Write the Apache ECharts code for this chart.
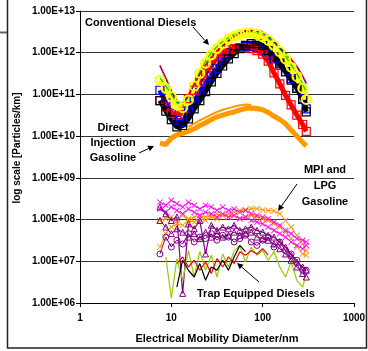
<!DOCTYPE html>
<html>
<head>
<meta charset="utf-8">
<script src="https://cdn.jsdelivr.net/npm/echarts@6/dist/echarts.min.js"></script>
<style>
  html, body { margin: 0; padding: 0; background: #fff; }
  #chart { width: 368px; height: 351px; }
</style>
</head>
<body>
<div id="chart"></div>
<script>
// size channels (nm)
var diam = [7.5, 8.7, 10, 11.5, 13.3, 15.4, 17.8, 20.5, 23.7, 27.4, 31.6, 36.5, 42.2, 48.7, 56.2, 64.9, 75, 86.6, 100, 115, 133, 154, 178, 205, 237, 274, 300];

// conventional diesels
var dieselYellow = [2.2e11, 1.4e11, 8.9e10, 5.6e10, 4.8e10, 7.4e10, 1.6e11, 3.2e11, 5.6e11, 8.9e11, 1.26e12, 1.66e12, 2.1e12, 2.5e12, 2.75e12, 2.95e12, 2.95e12, 2.75e12, 2.4e12, 2.0e12, 1.5e12, 1.07e12, 7.1e11, 4.5e11, 2.7e11, 1.4e11, 7.6e10];
var dieselRed = [7.1e10, 5.0e10, 3.5e10, 3.2e10, 4.0e10, 7.9e10, 1.26e11, 2.0e11, 3.2e11, 5.0e11, 7.6e11, 1.0e12, 1.17e12, 1.26e12, 1.32e12, 1.32e12, 1.26e12, 1.12e12, 9.3e11, 6.3e11, 3.3e11, 1.8e11, 9.5e10, 5.6e10, 3.2e10, 1.9e10, 1.3e10];
var dieselBlue = [1.26e11, 6.3e10, 3.5e10, 2.4e10, 2.1e10, 4.0e10, 6.8e10, 1.12e11, 1.8e11, 2.8e11, 4.2e11, 7.1e11, 1.0e12, 1.2e12, 1.32e12, 1.4e12, 1.4e12, 1.32e12, 1.12e12, 8.9e11, 7.1e11, 5.0e11, 3.5e11, 2.4e11, 1.4e11, 7.9e10, 4.5e10];
var dieselBlack = [7.1e10, 4.0e10, 2.5e10, 1.66e10, 1.8e10, 2.6e10, 4.5e10, 7.1e10, 1.17e11, 2.0e11, 3.2e11, 4.8e11, 7.1e11, 9.5e11, 1.26e12, 1.5e12, 1.66e12, 1.66e12, 1.5e12, 1.12e12, 7.9e11, 5.6e11, 3.5e11, 2.2e11, 1.4e11, 7.6e10, 3.8e10];
var dieselGreenLine = [2.5e11, 1.6e11, 1.0e11, 6.3e10, 5.2e10, 8.9e10, 1.8e11, 3.5e11, 6.3e11, 1.0e12, 1.4e12, 1.86e12, 2.3e12, 2.75e12, 3.1e12, 3.2e12, 3.2e12, 3.0e12, 2.7e12, 2.2e12, 1.74e12, 1.26e12, 8.3e11, 5.2e11, 3.2e11, 1.8e11, 1.12e11];
var dieselBlueLine = [4.8e11, 2.4e11, 1.2e11, 6.8e10, 6.0e10, 9.5e10, 1.7e11, 3.0e11, 5.0e11, 7.6e11, 1.1e12, 1.45e12, 1.9e12, 2.4e12, 2.9e12, 3.2e12, 3.35e12, 3.3e12, 3.0e12, 2.45e12, 1.85e12, 1.3e12, 9.5e11, 6.8e11, 4.5e11, 2.7e11, 1.8e11];
var dieselRedLine = [5.0e11, 2.5e11, 1.26e11, 7.1e10, 6.3e10, 1.0e11, 1.8e11, 3.2e11, 5.2e11, 7.9e11, 1.12e12, 1.5e12, 2.0e12, 2.5e12, 3.0e12, 3.4e12, 3.5e12, 3.5e12, 3.2e12, 2.6e12, 2.0e12, 1.4e12, 1.0e12, 7.1e11, 4.8e11, 2.8e11, 1.9e11];

// direct injection gasoline
var diMain = [6.8e9, 6.3e9, 8.9e9, 1.07e10, 1.17e10, 1.32e10, 1.5e10, 1.8e10, 2.1e10, 2.5e10, 2.9e10, 3.2e10, 3.5e10, 3.8e10, 4.2e10, 4.6e10, 4.7e10, 4.6e10, 4.3e10, 3.7e10, 3.0e10, 2.5e10, 2.0e10, 1.4e10, 1.0e10, 7.1e9, 5.8e9];
var diUpper = [null, null, null, null, null, 1.66e10, 2.0e10, 2.4e10, 2.8e10, 3.3e10, 3.8e10, 4.3e10, 4.7e10, 5.1e10, 5.5e10, 5.75e10, 5.6e10, null, null, null, null, null, null, null, null, null, null];

// MPI and LPG gasoline
var mpiMagentaA = [2.6e8, 2.2e8, 2.9e8, 2.4e8, 2.0e8, 2.6e8, 2.2e8, 1.8e8, 2.2e8, 2.0e8, 1.66e8, 2.0e8, 1.66e8, 1.8e8, 1.5e8, 1.66e8, 1.38e8, 1.26e8, 1.15e8, 1.05e8, 8.7e7, 7.3e7, 5.5e7, 4.6e7, 3.5e7, 3.2e7, 2.9e7];
var mpiMagentaB = [1.8e8, 1.5e8, 2.0e8, 1.66e8, 1.38e8, 1.8e8, 1.5e8, 1.26e8, 1.5e8, 1.38e8, 1.15e8, 1.38e8, 1.15e8, 1.26e8, 1.05e8, 1.15e8, 9.5e7, 8.7e7, 7.9e7, 6.6e7, 5.5e7, 4.6e7, 3.8e7, 2.9e7, 2.4e7, 2.0e7, 2.4e7];
var lpgOrangeA = [9.5e7, 1.05e8, 1.15e8, 9.5e7, 1.26e8, 1.05e8, 1.15e8, 1.26e8, 1.15e8, 1.26e8, 1.38e8, 1.26e8, 1.38e8, 1.5e8, 1.66e8, 1.7e8, 1.82e8, 1.82e8, 1.7e8, 1.66e8, 1.6e8, 1.38e8, 9.5e7, 6.6e7, 4.2e7, 2.6e7, 1.8e7];
var lpgOrangeB = [2.2e7, 4.6e7, 6.6e7, 7.9e7, 7.3e7, 9.5e7, 8.7e7, 1.05e8, 9.5e7, 1.15e8, 1.05e8, 1.26e8, 1.15e8, 1.26e8, 1.05e8, 1.15e8, 1.26e8, 1.15e8, 1.05e8, 9.5e7, 7.9e7, 6.6e7, 5.0e7, 3.5e7, 2.2e7, 1.5e7, 1.4e7];
var purpleTriA = [2.0e8, 1.38e8, 9.5e7, 1.15e8, 1.7e6, 7.9e7, 6.0e7, 9.5e7, 1.5e7, 7.3e7, 5.5e7, 6.6e7, 6.0e7, 7.3e7, 5.5e7, 6.0e7, 6.6e7, 5.5e7, 5.0e7, 4.2e7, 3.8e7, 2.9e7, 2.2e7, 1.4e7, 9.6e6, 7.3e6, 6.1e6];
var purpleTriB = [9.5e7, 6.6e7, 4.6e7, 6.0e7, 5.0e7, 3.8e7, 4.6e7, 3.5e7, 5.0e7, 3.8e7, 4.6e7, 3.8e7, 4.2e7, 5.0e7, 4.2e7, 4.6e7, 5.0e7, 3.8e7, 3.5e7, 3.2e7, 2.6e7, 2.0e7, 1.5e7, 1.06e7, 7.3e6, 5.1e6, 4.2e6];
var purpleCirc = [1.5e7, 3.8e7, 2.2e7, 3.2e7, 2.6e7, 4.6e7, 2.9e7, 3.8e7, 3.5e7, 4.6e7, 3.2e7, 4.2e7, 3.8e7, 2.9e7, 3.5e7, 4.2e7, 2.9e7, 2.4e7, 3.2e7, 3.8e7, 2.2e7, 2.9e7, 1.8e7, 1.5e7, 1.06e7, 6.1e6, 6.1e6];

// trap equipped diesels
var trapGreen = [null, 1.27e7, 1.3e6, 1.16e7, 3.5e6, 1.8e7, 4.2e6, 1.7e7, 6.1e6, 1.4e7, 4.2e6, 1.5e7, 7.3e6, 1.8e7, 2.4e7, 9.6e6, 2.2e7, 1.4e7, 1.8e7, 1.06e7, 1.7e7, 7.3e6, 4.2e6, 9.6e6, 3.5e6, 2.4e6, 5.1e6];
var trapRed = [null, null, null, 8.8e6, 1.27e7, 7.3e6, 1.06e7, 6.1e6, 9.6e6, 5.1e6, 1.16e7, 7.3e6, 1.27e7, 8.8e6, 1.7e7, 1.4e7, 1.8e7, 1.5e7, 2.0e7, 1.4e7, null, null, null, null, null, null, null];
var trapBlack = [null, null, null, 2.4e6, 1.06e7, 6.1e6, 4.2e6, 8.8e6, 3.5e6, 7.3e6, 6.1e6, 1.06e7, 6.1e6, 1.27e7, 2.4e7, 1.7e7, null, null, null, null, null, null, null, null, null, null, null];

var xTicks = [1, 10, 100, 1000];

function pts(vals) {
  var out = [];
  for (var i = 0; i < diam.length; i++) {
    if (vals[i] != null) out.push([diam[i], vals[i]]);
  }
  return out;
}

var crossPath = 'path://M0,1L1,0L5,4L9,0L10,1L6,5L10,9L9,10L5,6L1,10L0,9L4,5Z';

function markerSeries(vals, color, symbol, size, lineW, borderW, hollow) {
  return {
    type: 'line',
    data: pts(vals),
    symbol: symbol,
    symbolSize: size,
    smooth: false,
    silent: true,
    lineStyle: { color: color, width: lineW },
    itemStyle: hollow
      ? { color: 'rgba(0,0,0,0)', borderColor: color, borderWidth: borderW }
      : { color: color, borderWidth: 0 },
  };
}

function lineSeries(vals, color, width) {
  return {
    type: 'line',
    data: pts(vals),
    symbol: 'none',
    silent: true,
    lineStyle: { color: color, width: width },
  };
}

var bold = 'bold 11px "Liberation Sans", Arial, sans-serif';

function arrow(x1, y1, x2, y2) {
  var dx = x2 - x1, dy = y2 - y1;
  var len = Math.sqrt(dx * dx + dy * dy);
  var ux = dx / len, uy = dy / len;
  var bx = x2 - ux * 6, by = y2 - uy * 6;
  return [
    { type: 'line', shape: { x1: x1, y1: y1, x2: bx, y2: by }, style: { stroke: '#000', lineWidth: 1 } },
    {
      type: 'polygon',
      shape: { points: [[x2, y2], [bx - uy * 3, by + ux * 3], [bx + uy * 3, by - ux * 3]] },
      style: { fill: '#000' },
    },
  ];
}

var graphics = [
  { type: 'rect', shape: { x: 7.5, y: -5, width: 359, height: 353 }, style: { fill: 'none', stroke: '#222', lineWidth: 1.5 }, z: 100 },
  { type: 'line', shape: { x1: 0, y1: 32.5, x2: 7, y2: 32.5 }, style: { stroke: '#666', lineWidth: 2 } },
  { type: 'text', x: 17, y: 148, rotation: Math.PI / 2, style: { text: 'log scale [Particles/km]', font: 'bold 10px "Liberation Sans", Arial, sans-serif', fill: '#000', align: 'center', verticalAlign: 'middle' } },
  { type: 'text', style: { x: 85, y: 23, text: 'Conventional Diesels', font: bold, fill: '#000', align: 'left', verticalAlign: 'middle' }, z: 50 },
  { type: 'text', style: { x: 113, y: 143, text: 'Direct\nInjection\nGasoline', font: bold, lineHeight: 15, fill: '#000', align: 'center', verticalAlign: 'middle' }, z: 50 },
  { type: 'text', style: { x: 325, y: 186, text: 'MPI and\nLPG\nGasoline', font: bold, lineHeight: 16, fill: '#000', align: 'center', verticalAlign: 'middle' }, z: 50 },
  { type: 'text', style: { x: 197, y: 294, text: 'Trap Equipped Diesels', font: bold, fill: '#000', align: 'left', verticalAlign: 'middle' }, z: 50 },
]
  .concat(arrow(193, 27, 209, 45))
  .concat(arrow(139, 153, 154, 146))
  .concat(arrow(297, 184, 278, 211))
  .concat(arrow(259, 282, 237, 263));

var option = {
  animation: false,
  backgroundColor: '#fff',
  grid: { left: 80, right: 14, top: 11, bottom: 48, containLabel: false, outerBoundsMode: 'none' },
  xAxis: {
    type: 'log',
    logBase: 10,
    min: xTicks[0],
    max: xTicks[xTicks.length - 1],
    interval: 1,
    name: 'Electrical Mobility Diameter/nm',
    nameLocation: 'middle',
    nameGap: 30,
    nameTextStyle: { fontFamily: 'Liberation Sans', fontWeight: 'bold', fontSize: 11, color: '#000' },
    axisLine: { show: true, lineStyle: { color: '#000', width: 1 } },
    axisTick: { show: true, inside: false, length: 4, lineStyle: { color: '#000' } },
    axisLabel: { fontFamily: 'Liberation Sans', fontWeight: 'bold', fontSize: 10, color: '#000', margin: 10, formatter: function (v) { return String(Math.round(v)); } },
    splitLine: { show: false },
  },
  yAxis: {
    type: 'log',
    logBase: 10,
    min: 1e6,
    max: 1e13,
    interval: 1,
    axisLine: { show: true, lineStyle: { color: '#000', width: 1 } },
    axisTick: { show: true, inside: false, length: 4, lineStyle: { color: '#000' } },
    axisLabel: {
      fontFamily: 'Liberation Sans', fontWeight: 'bold', fontSize: 10, color: '#000', margin: 5,
      formatter: function (v) {
        var e = Math.round(Math.log(v) / Math.LN10);
        return '1.00E+' + (e < 10 ? '0' : '') + e;
      },
    },
    splitLine: { show: true, lineStyle: { color: '#333', width: 1 } },
  },
  graphic: graphics,
  series: [
    // DI gasoline
    lineSeries(diMain, '#ff9900', 5),
    lineSeries(diUpper, '#ff9900', 2),
    // conventional diesels
    markerSeries(dieselBlue, '#0000ff', 'rect', 8, 5, 1.2, true),
    markerSeries(dieselRed, '#ff0000', 'rect', 8, 5, 1.2, true),
    markerSeries(dieselBlack, '#000000', 'rect', 8, 5, 1.2, true),
    markerSeries(dieselYellow, '#ffff00', 'circle', 9, 6, 2, true),
    lineSeries(dieselGreenLine, '#00cc00', 1.2),
    lineSeries(dieselBlueLine, '#0000ff', 1.2),
    lineSeries(dieselRedLine, '#dd0000', 1.2),
    // MPI / LPG
    markerSeries(lpgOrangeB, '#ff9900', crossPath, 6, 1, 0, false),
    markerSeries(lpgOrangeA, '#ff9900', crossPath, 6, 1, 0, false),
    markerSeries(mpiMagentaB, '#ff00ff', crossPath, 6, 1, 0, false),
    markerSeries(mpiMagentaA, '#ff00ff', crossPath, 6, 1, 0, false),
    markerSeries(purpleTriB, '#800080', 'triangle', 6, 1, 1, true),
    markerSeries(purpleTriA, '#800080', 'triangle', 6, 1.2, 1, true),
    markerSeries(purpleCirc, '#800080', 'circle', 6, 1, 1, true),
    // trap equipped diesels
    lineSeries(trapGreen, '#99cc00', 1.2),
    lineSeries(trapRed, '#ff0000', 1.2),
    lineSeries(trapBlack, '#000000', 1.2),
  ],
};

var chart = echarts.init(document.getElementById('chart'));
chart.setOption(option);
</script>
</body>
</html>
